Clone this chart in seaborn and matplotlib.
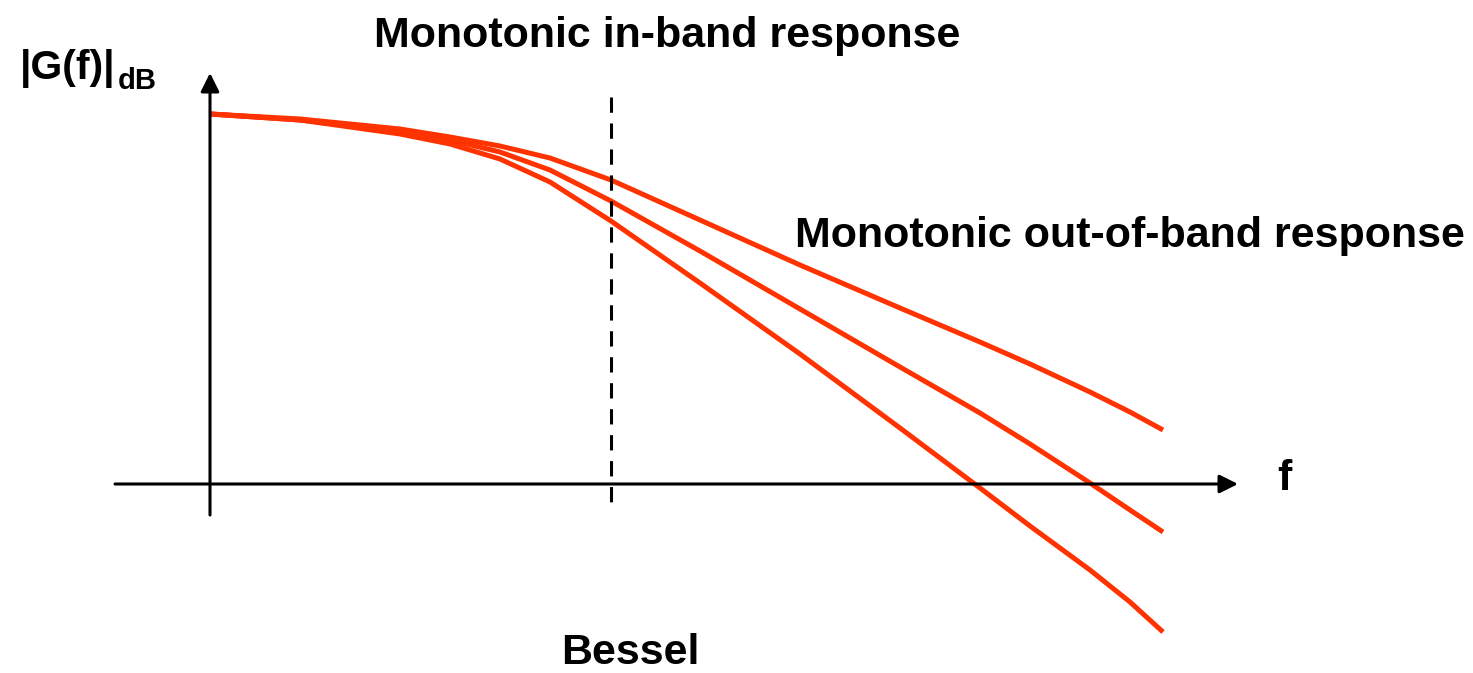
import matplotlib
matplotlib.use("Agg")
import matplotlib.pyplot as plt
import seaborn as sns
import pandas as pd

# frequency axis samples, origin at the axis crossing
freq = [0, 90, 190, 240, 290, 340, 401, 490, 590, 690, 770, 820, 880, 920, 953]
# three monotonic responses (gain, arbitrary units)
gain_a = [371, 366, 356, 348, 339, 327, 305, 265, 220, 177, 143, 121, 93, 73, 55]
gain_b = [371, 365, 354, 345, 333, 315, 284, 234, 176, 118, 72, 41, 2, -25, -47]
gain_c = [371, 365, 351, 341, 326, 303, 264, 202, 131, 57, -3, -41, -85, -117, -147]
curve_names = ["order 1", "order 2", "order 3"]
cutoff = 401

df = pd.concat([
    pd.DataFrame({"f": freq, "gain": g, "curve": n})
    for g, n in zip([gain_a, gain_b, gain_c], curve_names)
])

sns.set_style("white")
plt.rcParams["font.family"] = ["Liberation Sans", "DejaVu Sans"]

fig = plt.figure(figsize=(14.73, 6.73), dpi=100)
ax = fig.add_axes([0, 0, 1, 1])
ax.set_xlim(-210, 1263)
ax.set_ylim(-188, 485)
ax.axis("off")

red = "#ff3300"
sns.lineplot(data=df, x="f", y="gain", hue="curve",
             palette=[red] * 3, linewidth=3.6, legend=False, ax=ax,
             solid_capstyle="butt", solid_joinstyle="round")

# axes with arrows
ax.annotate("", xy=(1028, 1), xytext=(-95, 1),
            arrowprops=dict(arrowstyle="-|>", lw=2.2, color="black",
                            mutation_scale=28, shrinkA=0, shrinkB=0))
ax.annotate("", xy=(0, 412), xytext=(0, -30),
            arrowprops=dict(arrowstyle="-|>", lw=2.2, color="black",
                            mutation_scale=28, shrinkA=0, shrinkB=0))
ax.plot([cutoff, cutoff], [388, -27], color="black", lw=2.2,
        ls=(0, (5, 3.5)))

bold = dict(fontweight="bold", color="black", va="baseline")
ax.text(457, 438, "Monotonic in-band response", ha="center",
        fontsize=31, **bold)
ax.text(585, 238, "Monotonic out-of-band response", ha="left",
        fontsize=31, **bold)
ax.text(420, -179, "Bessel", ha="center", fontsize=31, **bold)
ax.text(1067, -5, "f", ha="left", fontsize=31, **bold)
ax.text(-190, 406, "|G(f)|", ha="left", fontsize=29.5, **bold)
ax.text(-92, 396, "dB", ha="left", fontsize=21, **bold)

fig.savefig("out.png", dpi=100)
